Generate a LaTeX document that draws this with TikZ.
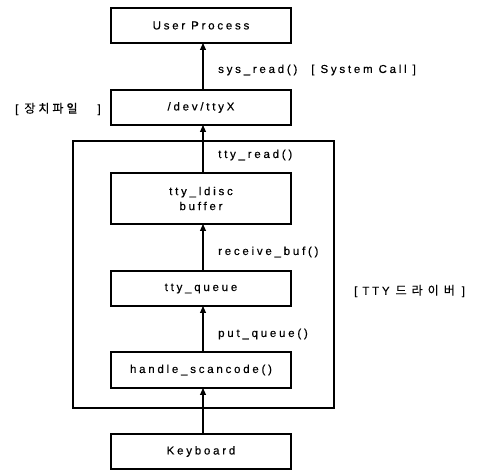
\documentclass[tikz,border=0pt]{standalone}
\usepackage{fontspec}
\setmainfont[LetterSpace=24,FakeBold=0.4]{Liberation Sans}
\newfontfamily\kr[FakeBold=0.3]{Noto Sans CJK KR}
\usetikzlibrary{arrows.meta}
\begin{document}
\begin{tikzpicture}[x=1pt,y=-1pt,
  box/.style={draw,line width=1.1pt,minimum width=180pt,inner sep=0pt,align=center,font=\fontsize{11.5}{15}\selectfont},
  lbl/.style={anchor=west,inner sep=0pt,font=\fontsize{11.5}{14}\selectfont},
  arr/.style={line width=1.1pt,-{Triangle[length=7pt,width=6pt]}}]
\useasboundingbox (0,0) rectangle (483,470);
\node[box,minimum height=35pt] (up) at (201,25.5) {User Process};
\node[box,minimum height=35pt] (dev) at (201,107.5) {/dev/ttyX};
\node[box,minimum height=51pt] (ld) at (201,198.5) {tty\_ldisc\\buffer};
\node[box,minimum height=35pt] (tq) at (201,288.5) {tty\_queue};
\node[box,minimum height=36pt] (hs) at (201,370) {handle\_scancode()};
\node[box,minimum height=35pt] (kb) at (201,451.5) {Keyboard};
\draw[line width=1.1pt] (73,141) rectangle (334,408);
\draw[arr] (203,90) -- (203,43);
\draw[arr] (203,173) -- (203,125);
\draw[arr] (203,271) -- (203,224);
\draw[arr] (203,352) -- (203,306);
\draw[arr] (203,434) -- (203,388);
\node[lbl] (l1) at (218,70) {sys\_read()\hspace{14pt}[ System Call ]};
\node[lbl] (l2) at (218,155) {tty\_read()};
\node[lbl] (l3) at (218,252) {receive\_buf()};
\node[lbl] (l4) at (218,334) {put\_queue()};
\node[lbl] (l5) at (15,109) {[\hspace{6pt}{\kr\fontsize{12}{14}\selectfont 장\hspace{3pt}치\hspace{3pt}파\hspace{3pt}일}\hspace{20pt}]};
\node[lbl] (l6) at (354,291) {[\hspace{5pt}TTY\hspace{6pt}{\kr\fontsize{12}{14}\selectfont 드\hspace{5pt}라\hspace{5pt}이\hspace{5pt}버}\hspace{7pt}]};
\end{tikzpicture}
\end{document}
